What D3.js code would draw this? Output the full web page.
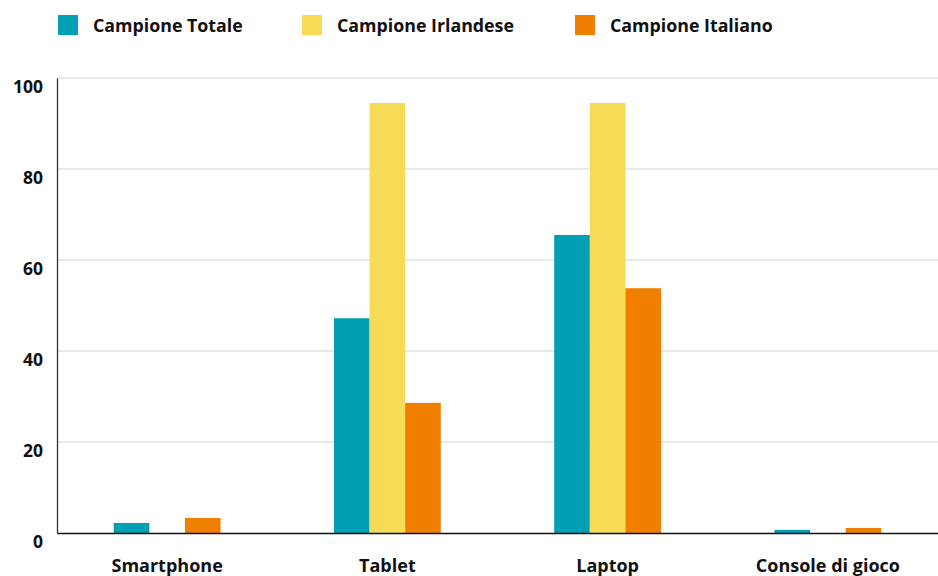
<!DOCTYPE html>
<html>
<head>
<meta charset="utf-8">
<script src="https://cdn.jsdelivr.net/npm/d3@7"></script>
<style>
  html, body { margin: 0; padding: 0; background: #fff; }
  svg { display: block; font-family: "Open Sans", "Noto Sans", sans-serif; }
</style>
</head>
<body>
<svg id="chart" width="938" height="576"></svg>
<script>
// Device categories along the x axis
const categories = ["Smartphone", "Tablet", "Laptop", "Console di gioco"];
// Series names, in legend order
const seriesNames = ["Campione Totale", "Campione Irlandese", "Campione Italiano"];
// Percent values per series, one per category
const totale = [2.2, 47.2, 65.5, 0.7];
const irlandese = [0, 94.5, 94.5, 0];
const italiano = [3.3, 28.6, 53.8, 1.1];
const seriesColors = ["#009fb4", "#f7da56", "#f07f00"];
const yTicks = [0, 20, 40, 60, 80, 100];

const seriesValues = [totale, irlandese, italiano];

const svg = d3.select("#chart");
const margin = { top: 78, right: 0, bottom: 43, left: 57 };
const W = 938, H = 576;
const x0 = d3.scaleBand()
  .domain(categories)
  .range([margin.left, W - margin.right])
  .paddingInner(0.515)
  .paddingOuter(0.2575);
const x1 = d3.scaleBand()
  .domain(seriesNames)
  .range([0, x0.bandwidth()])
  .padding(0);
const y = d3.scaleLinear().domain([0, 100]).range([H - margin.bottom, margin.top]);

// Horizontal gridlines
svg.append("g")
  .selectAll("line")
  .data(yTicks.filter(t => t > 0))
  .join("line")
  .attr("x1", margin.left)
  .attr("x2", W - margin.right)
  .attr("y1", d => y(d))
  .attr("y2", d => y(d))
  .attr("stroke", "#e2e2e2")
  .attr("stroke-width", 1.3);

// Bars
const groups = svg.append("g")
  .selectAll("g")
  .data(categories)
  .join("g")
  .attr("transform", d => `translate(${x0(d)},0)`);

groups.selectAll("rect")
  .data((c, ci) => seriesNames.map((s, si) => ({ s, v: seriesValues[si][ci], color: seriesColors[si] })))
  .join("rect")
  .attr("x", d => x1(d.s))
  .attr("width", x1.bandwidth())
  .attr("y", d => y(d.v))
  .attr("height", d => y(0) - y(d.v))
  .attr("fill", d => d.color);

// Y axis
const yAxis = svg.append("g")
  .attr("transform", `translate(${margin.left},0)`)
  .call(d3.axisLeft(y).tickValues(yTicks).tickSize(0).tickPadding(14));
yAxis.select(".domain").attr("stroke", "#333").attr("stroke-width", 1.3);
yAxis.selectAll("text")
  .attr("dy", "0.85em")
  .attr("fill", "#111")
  .style("font-size", "17.5px")
  .style("font-weight", "700")
  .style("font-family", "'Open Sans', sans-serif");

// X axis
const xAxis = svg.append("g")
  .attr("transform", `translate(0,${y(0)})`)
  .call(d3.axisBottom(x0).tickSize(0).tickPadding(26));
xAxis.select(".domain").attr("stroke", "#111").attr("stroke-width", 1.5);
xAxis.selectAll("text")
  .attr("fill", "#111")
  .style("font-size", "18px")
  .style("font-weight", "700")
  .style("font-family", "'Open Sans', sans-serif");

// Legend
const legendX = [58, 302, 575];
const legend = svg.append("g")
  .selectAll("g")
  .data(seriesNames)
  .join("g")
  .attr("transform", (d, i) => `translate(${legendX[i]},15)`);
legend.append("rect")
  .attr("width", 20)
  .attr("height", 20)
  .attr("fill", (d, i) => seriesColors[i]);
legend.append("text")
  .attr("x", 35)
  .attr("y", 17)
  .attr("fill", "#111")
  .style("font-size", "17.8px")
  .style("font-weight", "700")
  .text(d => d);
</script>
</body>
</html>
